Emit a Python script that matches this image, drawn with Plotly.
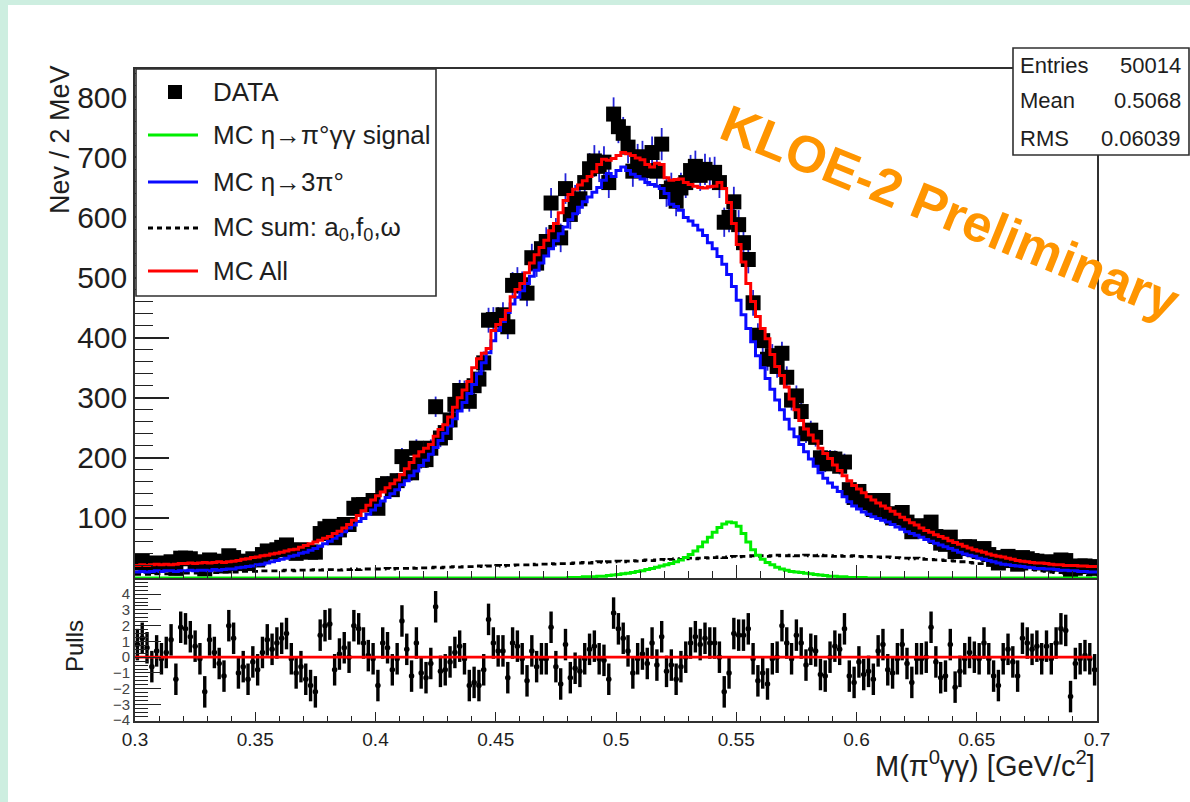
import plotly.graph_objects as go

W, H = 1190, 802
def px(x):
    return x / W
def py(y):
    return 1 - y / H

# ---------------- binning ----------------
x_low, x_high, bin_width, n_bins = 0.3, 0.7, 0.002, 200
bin_centers = [round(x_low + bin_width * (i + 0.5), 4) for i in range(n_bins)]
bin_edges = [round(x_low + bin_width * i, 4) for i in range(n_bins + 1)]

# ---------------- data (events / 2 MeV) ----------------
data_counts = [
    25, 28, 24, 19, 25, 22, 24, 27, 16, 33,
    33, 32, 27, 24, 15, 30, 28, 25, 20, 37,
    34, 24, 28, 24, 32, 30, 39, 45, 43, 47,
    51, 55, 46, 41, 47, 44, 43, 43, 74, 82,
    86, 67, 80, 89, 89, 116, 122, 122, 122, 129,
    116, 154, 157, 147, 162, 202, 189, 175, 216, 196,
    197, 216, 285, 233, 242, 263, 289, 312, 311, 294,
    320, 331, 358, 429, 430, 430, 438, 418, 487, 495,
    488, 474, 533, 524, 548, 560, 624, 575, 566, 648,
    605, 629, 631, 658, 681, 694, 685, 692, 658, 772,
    751, 740, 717, 677, 696, 701, 678, 708, 677, 722,
    643, 649, 627, 649, 658, 678, 685, 670, 680, 674,
    675, 658, 592, 600, 626, 588, 558, 530, 458, 404,
    395, 364, 370, 352, 374, 334, 296, 303, 277, 240,
    246, 234, 200, 190, 199, 198, 186, 193, 147, 134,
    144, 129, 125, 114, 129, 129, 107, 100, 105, 109,
    93, 77, 87, 82, 79, 93, 69, 58, 56, 68,
    44, 49, 52, 52, 47, 44, 49, 39, 31, 25,
    34, 36, 29, 23, 34, 32, 29, 28, 25, 27,
    23, 26, 30, 29, 10, 19, 20, 20, 19, 16,
]

mc_eta3pi0 = [
    10, 11, 10, 11, 12, 11, 12, 12, 11, 12,
    12, 13, 12, 13, 13, 12, 14, 13, 14, 15,
    15, 17, 18, 19, 20, 22, 23, 25, 27, 29,
    31, 33, 36, 38, 41, 43, 46, 49, 53, 57,
    61, 66, 71, 77, 83, 88, 94, 99, 106, 113,
    121, 128, 134, 140, 147, 155, 162, 170, 178, 187,
    196, 206, 217, 229, 241, 253, 265, 278, 292, 307,
    322, 340, 358, 375, 395, 412, 427, 442, 456, 467,
    478, 490, 502, 512, 524, 536, 548, 561, 573, 584,
    596, 606, 617, 626, 634, 642, 650, 662, 673, 668,
    678, 684, 678, 672, 668, 664, 658, 655, 652, 648,
    640, 622, 618, 612, 600, 594, 587, 579, 570, 558,
    548, 535, 522, 505, 485, 462, 438, 415, 393, 370,
    350, 332, 314, 296, 280, 264, 248, 235, 222, 210,
    198, 186, 175, 166, 158, 151, 144, 135, 127, 120,
    115, 110, 106, 102, 99, 96, 93, 89, 85, 81,
    77, 74, 71, 68, 64, 61, 58, 55, 52, 49,
    46, 43, 40, 38, 36, 33, 31, 29, 27, 25,
    23, 22, 21, 20, 19, 18, 17, 16, 16, 15,
    15, 14, 13, 13, 12, 12, 11, 11, 10, 10,
]

mc_all = [
    21, 22, 21, 22, 23, 22, 23, 22, 23, 24,
    24, 25, 24, 25, 26, 25, 26, 27, 26, 27,
    28, 29, 31, 32, 34, 35, 37, 38, 40, 41,
    43, 45, 47, 48, 51, 54, 57, 60, 63, 66,
    69, 74, 78, 83, 89, 96, 104, 112, 121, 130,
    137, 143, 150, 157, 163, 172, 182, 192, 203, 210,
    216, 222, 236, 247, 255, 268, 284, 300, 313, 327,
    350, 365, 374, 382, 412, 422, 430, 445, 468, 480,
    490, 508, 524, 538, 550, 562, 578, 590, 608, 628,
    638, 647, 654, 661, 668, 676, 688, 697, 695, 698,
    703, 708, 706, 703, 699, 696, 688, 684, 690, 688,
    666, 662, 663, 664, 658, 655, 652, 650, 649, 651,
    652, 658, 648, 625, 590, 555, 526, 490, 460, 435,
    415, 398, 372, 352, 337, 318, 298, 280, 262, 248,
    238, 228, 216, 207, 199, 188, 179, 170, 162, 154,
    148, 142, 135, 130, 125, 120, 116, 111, 106, 101,
    97, 92, 88, 83, 79, 76, 72, 69, 66, 62,
    59, 56, 53, 50, 47, 45, 43, 40, 38, 36,
    35, 33, 31, 29, 28, 27, 26, 25, 25, 24,
    23, 22, 22, 21, 21, 21, 20, 20, 19, 19,
]

mc_signal = [0] * 90 + [
    1, 1, 1, 2, 2, 2, 3, 3, 4, 5,
    6, 7, 8, 9, 11, 12, 14, 16, 18, 20,
    22, 24, 27, 30, 34, 39, 45, 52, 60, 68,
    76, 84, 90, 93, 92, 86, 74, 60, 47, 38,
    31, 26, 22, 18, 15, 13, 11, 10, 9, 8,
    7, 6, 5, 4, 3, 3, 2, 2, 1, 1,
    1, 1, 0, 0, 0, 0, 0, 0, 0, 0,
] + [0] * 40

mc_bkg_sum = [
    6, 6, 6, 6, 7, 7, 7, 7, 7, 8,
    8, 8, 8, 8, 9, 9, 9, 9, 10, 10,
    10, 10, 11, 11, 11, 11, 12, 12, 12, 12,
    12, 13, 13, 12, 13, 13, 13, 14, 13, 14,
    14, 14, 13, 14, 14, 15, 14, 15, 15, 15,
    15, 15, 16, 15, 16, 16, 16, 17, 16, 17,
    17, 17, 18, 17, 18, 18, 19, 18, 19, 19,
    19, 20, 19, 20, 20, 21, 20, 21, 21, 22,
    22, 22, 23, 22, 23, 23, 24, 23, 24, 24,
    24, 25, 25, 26, 25, 26, 27, 26, 27, 27,
    28, 27, 28, 29, 28, 29, 30, 29, 30, 31,
    30, 31, 32, 31, 32, 33, 32, 33, 34, 33,
    34, 35, 34, 35, 36, 35, 36, 36, 37, 36,
    37, 36, 37, 38, 37, 37, 38, 37, 37, 38,
    37, 37, 38, 37, 37, 36, 37, 36, 36, 37,
    36, 35, 36, 35, 35, 34, 35, 34, 34, 33,
    33, 32, 33, 32, 31, 31, 30, 30, 29, 29,
    28, 27, 27, 26, 25, 24, 24, 23, 22, 21,
    20, 19, 18, 17, 16, 15, 14, 13, 12, 11,
    10, 9, 9, 8, 7, 7, 6, 6, 5, 5,
]

pulls = [
    0.8, 1.2, 0.6, -0.6, 0.4, -0.1, 0.3, 1.1, -1.4, 1.9,
    1.8, 1.3, 0.7, -0.1, -2.2, 1.1, 0.3, -0.4, -1.2, 2.0,
    1.2, -1.0, -0.6, -1.4, -0.3, -0.8, 0.3, 1.1, 0.5, 0.9,
    1.2, 1.5, -0.1, -1.0, -0.6, -1.4, -1.8, -2.2, 1.4, 2.0,
    2.1, -0.8, 0.2, 0.6, 0.0, 2.0, 1.8, 0.9, 0.1, -0.1,
    -1.8, 0.9, 0.6, -0.8, -0.1, 2.3, 0.5, -1.2, 0.9, -1.0,
    -1.3, -0.4, 3.2, -0.9, -0.8, -0.3, 0.3, 0.7, -0.1, -1.8,
    -1.6, -1.8, -0.8, 2.4, 0.9, 0.4, 0.4, -1.3, 0.9, 0.7,
    -0.1, -1.5, 0.4, -0.6, -0.1, -0.1, 1.9, -0.6, -1.7, 0.8,
    -1.3, -0.7, -0.9, -0.1, 0.5, 0.7, -0.1, -0.2, -1.4, 2.8,
    1.8, 1.2, 0.4, -1.0, -0.1, 0.2, -0.4, 0.9, -0.5, 1.3,
    -0.9, -0.5, -1.4, -0.6, 0.0, 0.9, 1.3, 0.8, 1.2, 0.9,
    0.9, 0.0, -2.2, -1.0, 1.5, 1.4, 1.4, 1.8, -0.1, -1.5,
    -1.0, -1.7, -0.1, 0.0, 2.0, 0.9, -0.1, 1.4, 0.9, -0.5,
    0.5, 0.4, -1.1, -1.2, 0.0, 0.7, 0.5, 1.8, -1.2, -1.6,
    -0.3, -1.1, -0.9, -1.4, 0.4, 0.8, -0.8, -1.0, -0.1, 0.8,
    -0.4, -1.6, -0.1, -0.1, 0.0, 1.9, -0.3, -1.3, -1.2, 0.8,
    -1.9, -0.9, -0.1, 0.3, 0.0, -0.1, 0.9, -0.1, -1.2, -1.8,
    -0.1, 0.5, -0.3, -1.2, 1.2, 0.9, 0.5, 0.7, -0.1, 0.7,
    -0.1, 0.9, 1.8, 1.7, -2.5, -0.4, -0.1, 0.1, -0.1, -0.8,
]

stats_labels = ["Entries", "Mean", "RMS"]
stats_values = ["50014", "0.5068", "0.06039"]

legend_labels = ["DATA", "MC η→π°γγ signal", "MC η→3π°",
                 "MC sum: a<sub>0</sub>,f<sub>0</sub>,ω", "MC All"]

upper_ticks = [100, 200, 300, 400, 500, 600, 700, 800]
pull_ticks = [-4, -3, -2, -1, 0, 1, 2, 3, 4]

FONT = "Liberation Sans, Arial, Helvetica, sans-serif"
TXT = "#1e1e1e"
MINT = "#cdeee0"

fig = go.Figure()

# data points
fig.add_trace(go.Scatter(
    x=bin_centers, y=data_counts, mode="markers",
    marker=dict(symbol="square", size=15, color="black"),
    error_y=dict(type="sqrt", color="#2424d8", thickness=1.8, width=0),
    xaxis="x", yaxis="y", showlegend=False, hoverinfo="skip"))

def step_trace(vals, color, width, dash="solid"):
    return go.Scatter(
        x=bin_edges, y=list(vals) + [vals[-1]], mode="lines",
        line=dict(shape="hv", color=color, width=width, dash=dash),
        xaxis="x", yaxis="y", showlegend=False, hoverinfo="skip")

fig.add_trace(step_trace(mc_bkg_sum, "black", 2.8, "6px,4px"))
fig.add_trace(step_trace(mc_signal, "#00ee00", 3))
fig.add_trace(step_trace(mc_eta3pi0, "#0a0aff", 3))
fig.add_trace(step_trace(mc_all, "#ff0000", 3))

# pulls
fig.add_trace(go.Scatter(
    x=bin_centers, y=pulls, mode="markers",
    marker=dict(symbol="circle", size=5.5, color="black"),
    error_y=dict(type="constant", value=1, color="black", thickness=3.4, width=0),
    xaxis="x2", yaxis="y2", showlegend=False, hoverinfo="skip"))
fig.add_trace(go.Scatter(
    x=[x_low, x_high - 0.002], y=[0, 0], mode="lines",
    line=dict(color="#ff0000", width=2.8),
    xaxis="x2", yaxis="y2", showlegend=False, hoverinfo="skip"))

x_dom = [px(135), px(1097)]
frame = dict(showline=True, mirror=True, linecolor="#303030", linewidth=1.6,
             showgrid=False, zeroline=False, automargin=False)

fig.update_layout(
    width=W, height=H,
    margin=dict(l=0, r=0, t=0, b=0, pad=0, autoexpand=False),
    paper_bgcolor=MINT, plot_bgcolor="white",
    font=dict(family=FONT, color=TXT),
    showlegend=False,
    xaxis=dict(domain=x_dom, range=[x_low, x_high], anchor="y",
               ticks="inside", tick0=0.3, dtick=0.05, ticklen=13,
               tickwidth=1.4, tickcolor="#222", showticklabels=False,
               minor=dict(ticks="inside", dtick=0.01, ticklen=7,
                          tickwidth=1.2, tickcolor="#222"),
               **frame),
    yaxis=dict(domain=[py(578), py(69)], range=[0, 847], anchor="x",
               ticks="inside", tickmode="array", tickvals=upper_ticks,
               ticklen=34, tickwidth=1.5, tickcolor="#222",
               tickfont=dict(size=30, color=TXT),
               minor=dict(ticks="inside", tickmode="linear", tick0=0, dtick=20,
                          ticklen=18, tickwidth=1.4, tickcolor="#222"),
               **frame),
    xaxis2=dict(domain=x_dom, range=[x_low, x_high], anchor="y2",
                ticks="inside", tick0=0.3, dtick=0.05, ticklen=9,
                tickwidth=1.4, tickcolor="#222",
                tickfont=dict(size=19, color=TXT),
                minor=dict(ticks="inside", dtick=0.01, ticklen=5,
                           tickwidth=1.2, tickcolor="#222"),
                **frame),
    yaxis2=dict(domain=[py(721), py(580)], range=[-4.05, 4.9], anchor="x2",
                ticks="inside", tickmode="array", tickvals=pull_ticks,
                ticklen=26, tickwidth=1.4, tickcolor="#222",
                tickfont=dict(size=15, color="#444"),
                minor=dict(ticks="inside", tickmode="linear", tick0=0, dtick=0.25,
                           ticklen=13, tickwidth=1.2, tickcolor="#222"),
                **frame),
)

shapes = []
# white page on mint background
shapes.append(dict(type="rect", xref="paper", yref="paper", layer="below",
                   x0=px(8), x1=1, y0=0, y1=py(5),
                   fillcolor="white", line=dict(width=0)))
# legend box
shapes.append(dict(type="rect", xref="paper", yref="paper", layer="above",
                   x0=px(136), x1=px(436), y0=py(296), y1=py(69),
                   fillcolor="white", line=dict(color="#303030", width=1.6)))
leg_y = [92, 135, 182, 228, 271]
shapes.append(dict(type="rect", xref="paper", yref="paper", layer="above",
                   x0=px(168), x1=px(182), y0=py(99), y1=py(85),
                   fillcolor="black", line=dict(width=0)))
leg_lines = [("#00ee00", "solid"), ("#0a0aff", "solid"), ("black", "5px,4px"), ("#ff0000", "solid")]
for (col, dsh), yy in zip(leg_lines, leg_y[1:]):
    shapes.append(dict(type="line", xref="paper", yref="paper", layer="above",
                       x0=px(148), x1=px(198), y0=py(yy), y1=py(yy),
                       line=dict(color=col, width=3, dash=dsh)))
# stats box
shapes.append(dict(type="rect", xref="paper", yref="paper", layer="above",
                   x0=px(1013), x1=px(1189), y0=py(155), y1=py(48),
                   fillcolor="white", line=dict(color="#303030", width=1.6)))
fig.update_layout(shapes=shapes)

ann = []
for lab, yy in zip(legend_labels, leg_y):
    ann.append(dict(xref="paper", yref="paper", x=px(211), y=py(yy),
                    xanchor="left", yanchor="middle", showarrow=False,
                    text=lab, font=dict(size=26, color=TXT)))
for lab, val, yy in zip(stats_labels, stats_values, [66, 101, 138]):
    ann.append(dict(xref="paper", yref="paper", x=px(1018), y=py(yy),
                    xanchor="left", yanchor="middle", showarrow=False,
                    text=lab, font=dict(size=22, color=TXT)))
    ann.append(dict(xref="paper", yref="paper", x=px(1183), y=py(yy),
                    xanchor="right", yanchor="middle", showarrow=False,
                    text=val, font=dict(size=22, color=TXT)))
ann.append(dict(xref="paper", yref="paper", x=px(60), y=py(140),
                xanchor="center", yanchor="middle", showarrow=False,
                text="Nev / 2 MeV", textangle=-90, font=dict(size=27, color=TXT)))
ann.append(dict(xref="paper", yref="paper", x=px(74), y=py(646),
                xanchor="center", yanchor="middle", showarrow=False,
                text="Pulls", textangle=-90, font=dict(size=24, color=TXT)))
ann.append(dict(xref="paper", yref="paper", x=px(1097), y=py(764),
                xanchor="right", yanchor="middle", showarrow=False,
                text="M(π<sup>0</sup>γγ) [GeV/c<sup>2</sup>]",
                font=dict(size=29, color=TXT)))
ann.append(dict(xref="paper", yref="paper", x=px(950), y=py(212),
                xanchor="center", yanchor="middle", showarrow=False,
                text="KLOE-2 Preliminary", textangle=22,
                font=dict(size=52, color="#ff9500", weight="bold")))
fig.update_layout(annotations=ann)

fig.write_html("out.html")
